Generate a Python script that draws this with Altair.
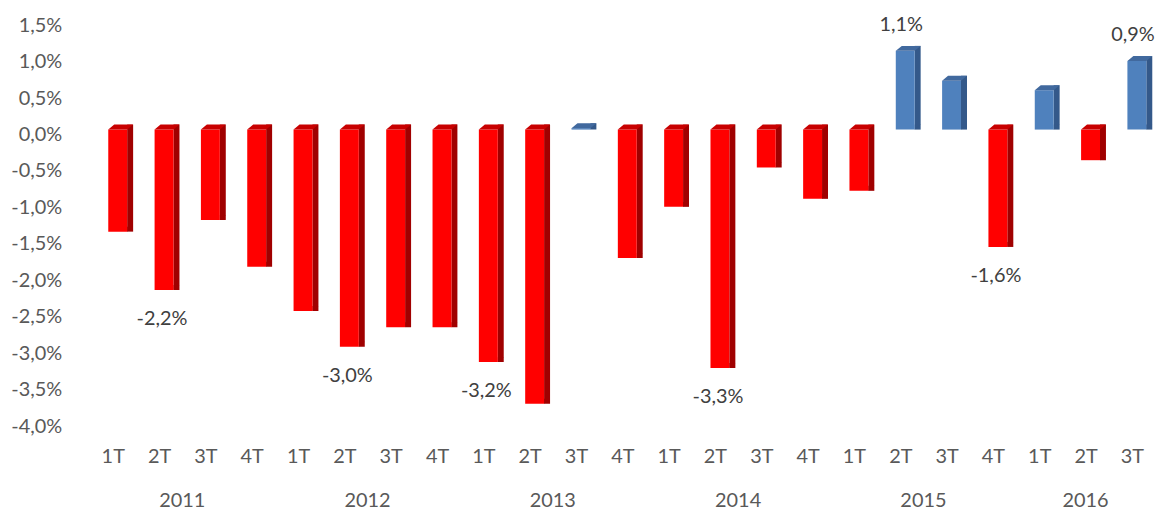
import altair as alt
import pandas as pd

years = ["2011"] * 4 + ["2012"] * 4 + ["2013"] * 4 + ["2014"] * 4 + ["2015"] * 4 + ["2016"] * 3
quarters = ["1T", "2T", "3T", "4T"] * 5 + ["1T", "2T", "3T"]
values = [-1.40, -2.20, -1.24, -1.88,
          -2.49, -2.98, -2.71, -2.71,
          -3.19, -3.76, 0.02, -1.76,
          -1.06, -3.27, -0.52, -0.95,
          -0.84, 1.08, 0.67, -1.61,
          0.54, -0.42, 0.94]
show_label = [False, True, False, False,
              False, True, False, False,
              True, False, False, False,
              False, True, False, False,
              False, True, False, True,
              False, False, True]
y_ticks = [-4.0, -3.5, -3.0, -2.5, -2.0, -1.5, -1.0, -0.5, 0.0, 0.5, 1.0, 1.5]

df = pd.DataFrame({
    "idx": list(range(len(values))),
    "year": years,
    "quarter": quarters,
    "value": values,
    "show": show_label,
})

FONT = "Lato"
FS = 20
AXIS_GREY = "#595959"
LABEL_GREY = "#404040"
STEP = 47.0
H = 403

xscale = alt.Scale(domain=[-0.5, len(values) - 0.5], nice=False, zero=False)
yscale = alt.Scale(domain=[-4.0, 1.5], nice=False, zero=False)

quarter_expr = "[" + ",".join("'%s'" % q for q in quarters) + "][datum.value]"
pct_expr = "replace(replace(format({v}, '.1f'), '.', ','), '\u2212', '-') + '%'"

base = alt.Chart(df).transform_calculate(
    top="max(datum.value, 0)",
    bottom="min(datum.value, 0)",
)

x_axis = alt.Axis(
    values=list(range(len(values))), labelExpr=quarter_expr, title=None,
    domain=False, ticks=False, tickSize=0, grid=False, labelPadding=36,
    labelBaseline="middle", labelFont=FONT, labelFontSize=FS, labelColor=AXIS_GREY,
    labelAngle=0, labelOverlap=False,
)
y_axis = alt.Axis(
    values=y_ticks,
    labelExpr=pct_expr.format(v="datum.value"),
    title=None, domain=False, ticks=False, tickSize=0, grid=False,
    labelPadding=23, labelOffset=5, labelFont=FONT, labelFontSize=FS,
    labelColor=AXIS_GREY, labelOverlap=False, labelBaseline="middle",
    labelBound=False,
)

def X(field):
    return alt.X(field, scale=xscale, axis=x_axis)

def Y(field):
    return alt.Y(field, scale=yscale, axis=y_axis)

def col(neg, pos):
    return alt.condition("datum.value < 0", alt.value(neg), alt.value(pos))

# side face (rectangle part)
side = base.mark_bar(width=6, xOffset=5 + 9.5 + 3, yOffset=-5).encode(
    x=X("idx:Q"), y=Y("top:Q"), y2="bottom:Q",
    color=col("#A00000", "#34598A"),
)

# side face bottom triangle
side_tri = base.mark_point(
    shape="M 14.5 0 L 20.5 -5 L 14.5 -5 Z", size=4, filled=True, opacity=1, strokeWidth=0
).encode(
    x=X("idx:Q"), y=Y("bottom:Q"),
    color=col("#A00000", "#34598A"),
)

front = base.mark_bar(width=19, xOffset=5).encode(
    x=X("idx:Q"), y=Y("top:Q"), y2="bottom:Q",
    color=col("#FF0000", "#4F81BD"),
)

top_face = base.mark_point(
    shape="M -4.5 0 L 14.5 0 L 20.5 -5 L 1.5 -5 Z", size=4, filled=True, opacity=1, strokeWidth=0
).encode(
    x=X("idx:Q"), y=Y("top:Q"),
    color=col("#C80000", "#41699E"),
)

lab_base = base.transform_filter("datum.show").transform_calculate(
    txt=pct_expr.format(v="datum.value"),
)

labels_neg = lab_base.transform_filter("datum.value < 0").mark_text(
    font=FONT, fontSize=FS, color=LABEL_GREY, baseline="middle", xOffset=3, yOffset=29
).encode(
    x=X("idx:Q"), y=Y("value:Q"), text="txt:N",
)

labels_pos = lab_base.transform_filter("datum.value >= 0").mark_text(
    font=FONT, fontSize=FS, color=LABEL_GREY, baseline="middle", xOffset=1, yOffset=-26
).encode(
    x=X("idx:Q"), y=Y("value:Q"), text="txt:N",
)

year_labels = alt.Chart(df).transform_aggregate(
    mid="mean(idx)", groupby=["year"]
).mark_text(font=FONT, fontSize=FS, color=AXIS_GREY, baseline="middle").encode(
    x=X("mid:Q"),
    y=alt.value(H + 80),
    text="year:N",
)

chart = alt.layer(side, side_tri, front, top_face, labels_neg, labels_pos, year_labels).properties(
    width=STEP * len(values),
    height=H,
    autosize=alt.AutoSizeParams(type="none"),
    padding={"left": 77, "top": 11, "right": 4, "bottom": 90},
).configure_view(stroke=None).configure_axis(labelOverlap=False)

chart.save("out.html", embed_options={"renderer": "svg", "actions": False})
